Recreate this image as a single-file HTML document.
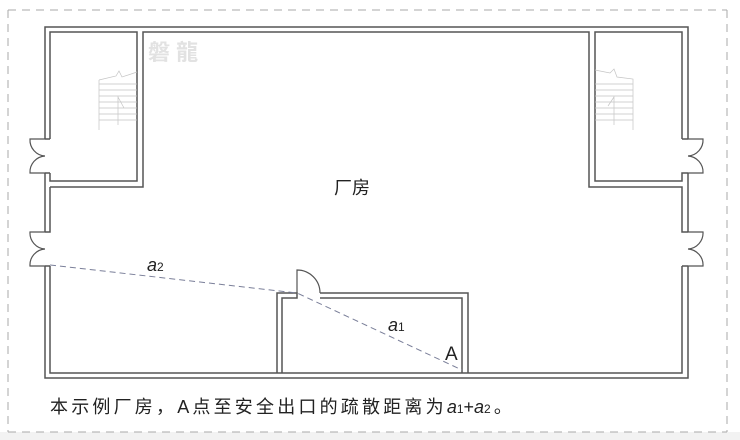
<!DOCTYPE html>
<html><head><meta charset="utf-8"><style>
html,body{margin:0;padding:0;background:#fff;width:740px;height:440px;overflow:hidden}
svg{display:block}
text{font-family:"Liberation Sans","Noto Sans CJK SC",sans-serif}
</style></head><body>
<svg width="740" height="440" viewBox="0 0 740 440">
<rect x="0" y="432" width="740" height="8" fill="#f2f2f2"/>
<g fill="none" stroke="#aaa" stroke-width="1" stroke-dasharray="8,6">
<path d="M8 10 H727"/><path d="M8 10 V432"/><path d="M727 10 V432"/><path d="M8 432 H727"/>
</g>
<g fill="none" stroke="#555" stroke-width="1.5">
<path d="M45 139 V27 H688 V139"/>
<path d="M45 173 V232"/><path d="M45 266 V378 H688 V266"/><path d="M688 173 V232"/>
<path d="M50 139 V32 H137 V181 H50 V173"/>
<path d="M50 139 H45 M50 173 H45"/>
<path d="M50 187 V232 H45 M50 266 H45 M50 187 H143 V32 H589 V187 H682 V232 H688"/>
<path d="M682 139 V32 H595 V181 H682 V173 H688 M682 139 H688"/>
<path d="M682 266 H688 M682 266 V373 H50 V266"/>
<path d="M277 373 V293 H297 V298 H282 V373"/>
<path d="M320 293 H468 V373 M462 373 V298 H320"/>
<path d="M297 293 V270 A23 23 0 0 1 320 293" stroke-width="1.2"/>
<path d="M45 139 H30 A16 16 0 0 0 45 156 M45 173 H30 A16 16 0 0 1 45 156" stroke-width="1.2"/>
<path d="M45 232 H30 A16 16 0 0 0 45 249 M45 266 H30 A16 16 0 0 1 45 249" stroke-width="1.2"/>
<path d="M688 139 H703 A16 16 0 0 1 688 156 M688 173 H703 A16 16 0 0 0 688 156" stroke-width="1.2"/>
<path d="M688 232 H703 A16 16 0 0 1 688 249 M688 266 H703 A16 16 0 0 0 688 249" stroke-width="1.2"/>
</g>
<g stroke="#c4c4c4" stroke-width="0.7" fill="none">
<path d="M99 80 L116 76 L119 71 L122 77 L137 72"/>
<path d="M99 80 V130 M99 84 H137 M99 90 H137 M99 96 H137 M99 102 H137 M99 108 H137 M99 114 H137 M99 120 H137 M118 96 V125 M118 97 L124 108"/>
<path d="M595 70 L610 73 L614 69 L617 77 L633 79 V130 M595 84 H633 M595 90 H633 M595 96 H633 M595 102 H633 M595 108 H633 M595 114 H633 M595 120 H633 M614 96 V125 M614 97 L608 106"/>
</g>
<text x="148" y="60" font-size="22" fill="#e2e2e2" font-weight="bold">磐 龍</text>
<g stroke="#7a7f99" stroke-width="1" stroke-dasharray="6,4" fill="none">
<path d="M50 265 L297 293 L462 370"/>
</g>
<text x="334" y="194" font-size="18" fill="#222">厂房</text>
<text x="147" y="271" font-size="18" fill="#222" font-style="italic">a<tspan font-size="12" font-style="normal">2</tspan></text>
<text x="388" y="331" font-size="18" fill="#222" font-style="italic">a<tspan font-size="12" font-style="normal">1</tspan></text>
<text x="445" y="360" font-size="19" fill="#222">A</text>
<text x="50" y="413" font-size="18" fill="#222" letter-spacing="3.2">本示例厂房，A点至安全出口的疏散距离为<tspan font-style="italic" letter-spacing="0">a</tspan><tspan font-size="12" letter-spacing="0">1</tspan><tspan letter-spacing="0">+</tspan><tspan font-style="italic" letter-spacing="0">a</tspan><tspan font-size="12">2</tspan>。</text>
</svg>
</body></html>
